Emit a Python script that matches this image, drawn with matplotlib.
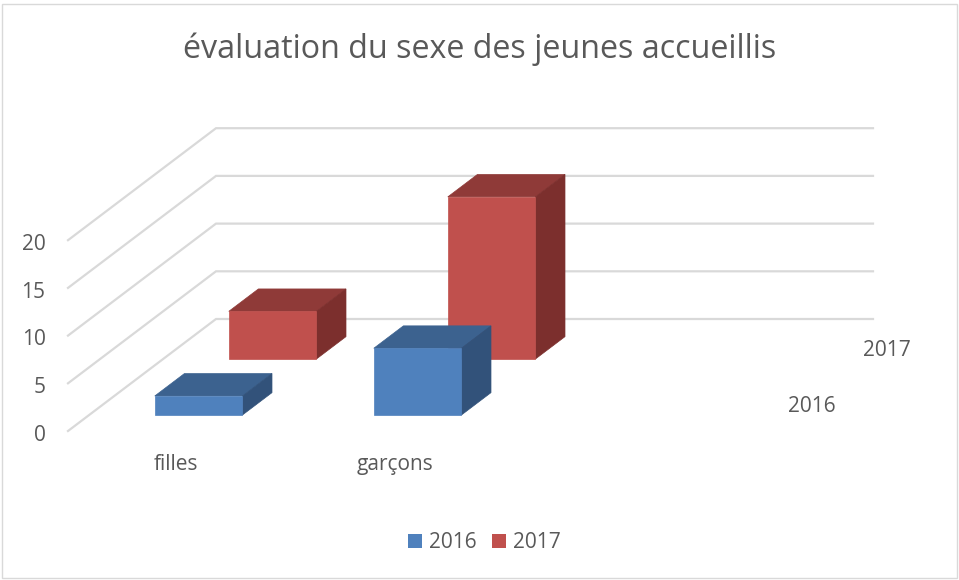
import matplotlib
matplotlib.use("Agg")
import matplotlib.pyplot as plt
from matplotlib.patches import Polygon, Rectangle

categories = ["filles", "garçons", ""]
series_names = ["2016", "2017"]
values_2016 = [2, 7]
values_2017 = [5, 17]
ticks = [0, 5, 10, 15, 20]

front_colors = ["#4f81bd", "#c0504d"]
top_colors = ["#3c628f", "#8f3a38"]
side_colors = ["#32527a", "#7c2f2d"]
grid_color = "#d9d9d9"
text_color = "#595959"

W, H = 959, 580
px_x = 219.0    # pixels per category
px_y = 9.54     # pixels per value unit
x0, y0 = 68.0, 431.0   # front left corner of the floor, in pixels

plt.rcParams["font.family"] = ["Open Sans", "DejaVu Sans"]

fig = plt.figure(figsize=(W / 100, H / 100), dpi=100)
ax = fig.add_axes([0, 0, 1, 1])
# x in categories, y in values, so marks stay in data units
ax.set_xlim(-x0 / px_x, (W - x0) / px_x)
ax.set_ylim(-(H - y0) / px_y, y0 / px_y)
ax.axis("off")

# one series deep on screen
depth_x = 74.0 / px_x
depth_y = 56.0 / px_y


def project(cat, depth, value):
    return cat + depth * depth_x, value + depth * depth_y


def box(cat, depth, value, i, z):
    w, d = 0.4, 0.4
    c0 = cat + 0.3
    d0 = depth + 0.285
    a = project(c0, d0, 0)
    b = project(c0 + w, d0, 0)
    c = project(c0 + w, d0, value)
    e = project(c0, d0, value)
    f = project(c0, d0 + d, value)
    g = project(c0 + w, d0 + d, value)
    h = project(c0 + w, d0 + d, 0)
    ax.add_patch(Polygon([e, c, g, f], fc=top_colors[i], ec=top_colors[i], lw=0.5, zorder=z))
    ax.add_patch(Polygon([b, h, g, c], fc=side_colors[i], ec=side_colors[i], lw=0.5, zorder=z))
    ax.add_patch(Polygon([a, b, c, e], fc=front_colors[i], ec=front_colors[i], lw=0.5, zorder=z + 0.5))


# walls
for t in ticks:
    p0 = project(0, 0, t)
    p1 = project(0, 2, t)
    p2 = project(len(categories), 2, t)
    ax.plot([p0[0], p1[0], p2[0]], [p0[1], p1[1], p2[1]], color=grid_color, lw=1.6, zorder=1,
            solid_joinstyle="miter")
    ax.text(-22.5 / px_x, t - 0.45, str(t), ha="right", va="center", fontsize=15, color=text_color)

# back row first
for c, v in enumerate(values_2017):
    box(c, 1, v, 1, 2)
for c, v in enumerate(values_2016):
    box(c, 0, v, 0, 4)

for c, name in zip([0, 1], categories):
    ax.text(c + 0.495, -3.5, name, ha="center", va="center", fontsize=15, color=text_color)

# depth axis labels
ax.text(3 + 0.397, 2.6, series_names[0], ha="center", va="center", fontsize=15, color=text_color)
ax.text(3 + 0.737, 8.4, series_names[1], ha="center", va="center", fontsize=15, color=text_color)

ax.text(480 / W, 1 - 49.5 / H, "évaluation du sexe des jeunes accueillis", transform=ax.transAxes,
        ha="center", va="center", fontsize=23.25, color=text_color)

# legend
handles = [Rectangle((0, 0), 1, 1, fc=col, ec="none") for col in front_colors]
ax.legend(handles, series_names, loc="center", bbox_to_anchor=(484 / W, 1 - 542.5 / H),
          ncol=2, frameon=False, fontsize=15, labelcolor=text_color, handlelength=0.7,
          handleheight=0.68, handletextpad=0.3, columnspacing=0.75)

# chart frame
fig.add_artist(Rectangle((1.5 / W, 1 - 578 / H), 955 / W, 574.5 / H, transform=fig.transFigure,
                         fc="none", ec=grid_color, lw=1.0))

fig.savefig("out.png", dpi=100)
